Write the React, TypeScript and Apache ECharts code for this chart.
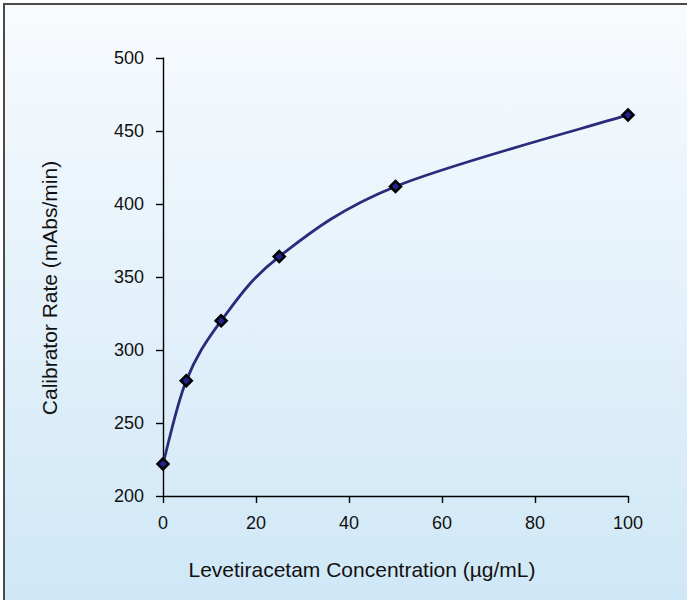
import React, { useEffect, useRef } from "react";
import * as echarts from "echarts";

const concentrations = [0, 5, 12.5, 25, 50, 100];
const rates = [222, 279, 320, 364, 412, 461];
const xTicks = [0, 20, 40, 60, 80, 100];
const yTicks = [200, 250, 300, 350, 400, 450, 500];
const xTitle = "Levetiracetam Concentration (\u00b5g/mL)";
const yTitle = "Calibrator Rate (mAbs/min)";

export default function App() {
  const ref = useRef<HTMLDivElement>(null);
  useEffect(() => {
    document.body.style.margin = "0";
    const chart = echarts.init(ref.current!, null, { renderer: "svg" });
    const font = "'Liberation Sans', Arial, sans-serif";
    const points = concentrations.map((c, i) => [c, rates[i]]);
    chart.setOption({
      animation: false,
      backgroundColor: "transparent",
      graphic: [
        {
          type: "rect",
          z: -10,
          silent: true,
          shape: { x: 4, y: 4, width: 720, height: 640 },
          style: {
            fill: new echarts.graphic.LinearGradient(0, 0, 0, 1, [
              { offset: 0, color: "#f8fbfe" },
              { offset: 1, color: "#cce6f6" },
            ]),
            stroke: "#4a4a4a",
            lineWidth: 2,
          },
        },
      ],
      grid: { left: 163, right: 59, top: 58, bottom: 104, containLabel: false },
      xAxis: {
        type: "value",
        min: xTicks[0],
        max: xTicks[xTicks.length - 1],
        interval: 20,
        name: xTitle,
        nameLocation: "middle",
        nameGap: 63,
        nameTextStyle: { fontFamily: font, fontSize: 21, color: "#111", padding: [0, 67, 0, 0] },
        axisLine: { show: true, lineStyle: { color: "#000", width: 1.4 } },
        axisTick: { show: true, length: 7, lineStyle: { color: "#000", width: 1.4 } },
        axisLabel: { fontFamily: font, fontSize: 18, color: "#111", margin: 18 },
        splitLine: { show: false },
      },
      yAxis: {
        type: "value",
        min: yTicks[0],
        max: yTicks[yTicks.length - 1],
        interval: 50,
        name: yTitle,
        nameLocation: "middle",
        nameGap: 103,
        nameRotate: 90,
        nameTextStyle: { fontFamily: font, fontSize: 21, color: "#111", padding: [0, 22, 0, 0] },
        axisLine: { show: true, lineStyle: { color: "#000", width: 1.4 } },
        axisTick: { show: true, length: 7, lineStyle: { color: "#000", width: 1.4 } },
        axisLabel: { fontFamily: font, fontSize: 18, color: "#111", margin: 19 },
        splitLine: { show: false },
      },
      series: [
        {
          type: "custom",
          data: points,
          encode: { x: 0, y: 1 },
          z: 2,
          renderItem: (params: any, api: any) => {
            if (params.dataIndex !== 0) return null;
            const p = points.map((d) => api.coord(d));
            const n = p.length;
            let d = `M${p[0][0]},${p[0][1]}`;
            for (let i = 0; i < n - 1; i++) {
              const p0 = p[Math.max(i - 1, 0)];
              const p1 = p[i];
              const p2 = p[i + 1];
              const p3 = p[Math.min(i + 2, n - 1)];
              const c1x = p1[0] + (p2[0] - p0[0]) / 6;
              const c1y = p1[1] + (p2[1] - p0[1]) / 6;
              const c2x = p2[0] - (p3[0] - p1[0]) / 6;
              const c2y = p2[1] - (p3[1] - p1[1]) / 6;
              d += ` C${c1x},${c1y} ${c2x},${c2y} ${p2[0]},${p2[1]}`;
            }
            return {
              type: "path",
              shape: { pathData: d },
              style: { fill: null, stroke: "#2b2b7c", lineWidth: 2.8, lineJoin: "round" },
            };
          },
        },
        {
          type: "scatter",
          data: points,
          z: 3,
          symbol: "diamond",
          symbolSize: 11,
          itemStyle: { color: "#22228a", borderColor: "#000", borderWidth: 2.5, opacity: 1 },
        },
      ],
    });
    return () => chart.dispose();
  }, []);
  return <div ref={ref} style={{ width: 687, height: 600 }} />;
}
